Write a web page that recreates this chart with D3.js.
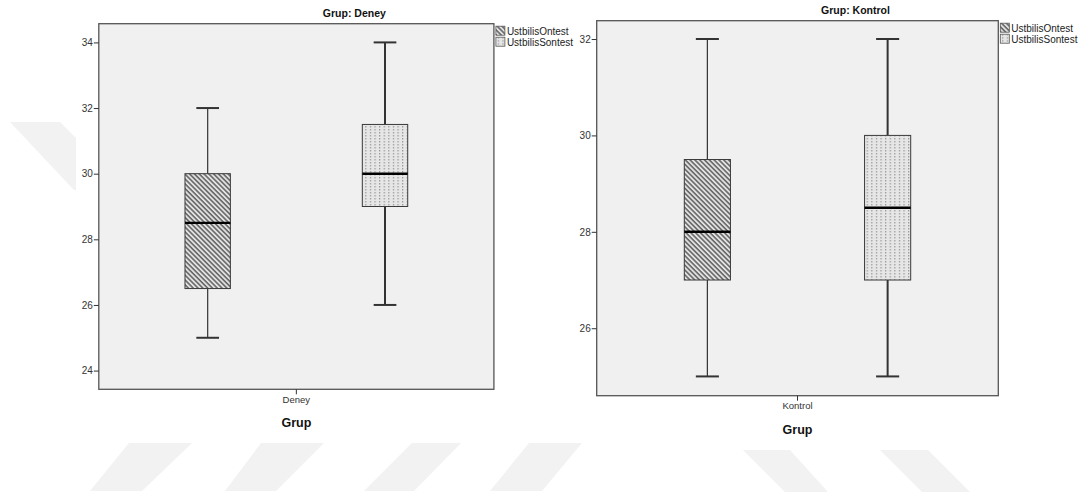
<!DOCTYPE html>
<html>
<head>
<meta charset="utf-8">
<script src="https://cdn.jsdelivr.net/npm/d3@7"></script>
<style>
body { margin: 0; background: #fff; }
svg { display: block; font-family: Arial, "Liberation Sans", sans-serif; }
</style>
</head>
<body>
<svg class="graph" width="1088" height="496"></svg>
<script>
var groups = ["Deney", "Kontrol"];
var seriesNames = ["UstbilisOntest", "UstbilisSontest"];
// min, Q1, median, Q3, max
var deneyOntest = [25, 26.5, 28.5, 30, 32];
var deneySontest = [26, 29, 30, 31.5, 34];
var kontrolOntest = [25, 27, 28, 29.5, 32];
var kontrolSontest = [25, 27, 28.5, 30, 32];
var deneyTicks = [24, 26, 28, 30, 32, 34];
var kontrolTicks = [26, 28, 30, 32];
var deneyDomain = [23.43, 34.57];
var kontrolDomain = [24.6, 32.38];
var xTitle = "Grup";
var titlePrefix = "Grup: ";

var svg = d3.select("svg.graph");
var defs = svg.append("defs");

// hatch for the first series
var hatch = defs.append("pattern")
    .attr("id", "hatch")
    .attr("patternUnits", "userSpaceOnUse")
    .attr("width", 3.4)
    .attr("height", 3.4)
    .attr("patternTransform", "rotate(-45)");
hatch.append("rect").attr("width", 3.4).attr("height", 3.4).attr("fill", "#e2e2e2");
hatch.append("line")
    .attr("x1", 0.9).attr("y1", 0).attr("x2", 0.9).attr("y2", 3.4)
    .attr("stroke", "#4a4a4a").attr("stroke-width", 1.3);

// dotted vertical lines for the second series
var dots = defs.append("pattern")
    .attr("id", "dots")
    .attr("patternUnits", "userSpaceOnUse")
    .attr("width", 4.6)
    .attr("height", 3);
dots.append("rect").attr("width", 4.6).attr("height", 3).attr("fill", "#e6e6e6");
dots.append("rect").attr("x", 2).attr("y", 0).attr("width", 1).attr("height", 1.5).attr("fill", "#8c8c8c");

var fills = ["url(#hatch)", "url(#dots)"];
var whiskerWidths = [1.2, 2];

// faint page watermark behind the charts
var watermark = [
    [[10, 122], [60, 122], [76, 138], [76, 190], [74, 190]],
    [[129, 443], [192, 443], [142, 491], [90, 491]],
    [[261, 443], [324, 443], [276, 491], [225, 491]],
    [[412, 443], [461, 443], [414, 491], [364, 491]],
    [[529, 443], [582, 443], [542, 491], [490, 491]],
    [[743, 450], [790, 450], [828, 492], [785, 492]],
    [[880, 450], [928, 450], [970, 492], [922, 492]]
];
svg.append("g").selectAll("polygon")
    .data(watermark)
    .enter().append("polygon")
    .attr("points", function (d) { return d.map(function (p) { return p.join(","); }).join(" "); })
    .attr("fill", "#f2f2f2");

var panels = [
    { group: groups[0], stats: [deneyOntest, deneySontest], ticks: deneyTicks, domain: deneyDomain,
      x0: 98.8, x1: 493.9, y0: 23.7, y1: 389.3 },
    { group: groups[1], stats: [kontrolOntest, kontrolSontest], ticks: kontrolTicks, domain: kontrolDomain,
      x0: 596.7, x1: 998.3, y0: 20.7, y1: 395.7 }
];

panels.forEach(function (p) {
    var g = svg.append("g");
    var w = p.x1 - p.x0;

    var yScale = d3.scaleLinear().domain(p.domain).range([p.y1, p.y0]);
    var xGroup = d3.scaleBand().domain([p.group]).range([p.x0, p.x1]);
    var xSeries = d3.scaleBand()
        .domain(seriesNames)
        .range([p.x0, p.x1])
        .paddingInner(0.744)
        .paddingOuter(0.486);

    // plot frame
    g.append("rect")
        .attr("x", p.x0)
        .attr("y", p.y0)
        .attr("width", w)
        .attr("height", p.y1 - p.y0)
        .attr("fill", "#f0f0f0")
        .attr("stroke", "#555")
        .attr("stroke-width", 1.3);

    // y axis
    var yAxis = g.append("g")
        .attr("transform", "translate(" + p.x0 + ",0)")
        .call(d3.axisLeft(yScale).tickValues(p.ticks).tickSize(5).tickPadding(1).tickFormat(d3.format("d")));
    yAxis.select(".domain").remove();
    yAxis.selectAll("line").attr("stroke", "#333");
    yAxis.selectAll("text").attr("fill", "#333").attr("font-size", 10)
        .attr("font-family", "Arial, 'Liberation Sans', sans-serif");

    // x axis
    var xAxis = g.append("g")
        .attr("transform", "translate(0," + p.y1 + ")")
        .call(d3.axisBottom(xGroup).tickSize(5).tickPadding(2));
    xAxis.select(".domain").remove();
    xAxis.selectAll("line").attr("stroke", "#333");
    xAxis.selectAll("text").attr("fill", "#333").attr("font-size", 9.5)
        .attr("font-family", "Arial, 'Liberation Sans', sans-serif");

    g.append("text")
        .attr("x", xGroup(p.group) + xGroup.bandwidth() / 2)
        .attr("y", p.y1 + 38)
        .attr("text-anchor", "middle")
        .attr("font-size", 12.5)
        .attr("font-weight", "bold")
        .attr("fill", "#111")
        .text(xTitle);

    g.append("text")
        .attr("x", (p.x0 + p.x1) / 2 + 58)
        .attr("y", p.y0 - 7)
        .attr("text-anchor", "middle")
        .attr("font-size", 10.5)
        .attr("font-weight", "bold")
        .attr("fill", "#111")
        .text(titlePrefix + p.group);

    // boxes
    var bw = xSeries.bandwidth();
    var boxes = g.selectAll("g.box")
        .data(p.stats)
        .enter().append("g")
        .classed("box", true);

    boxes.each(function (s, i) {
        var b = d3.select(this);
        var left = xSeries(seriesNames[i]);
        var cx = left + bw / 2;
        var capHalf = bw / 4;

        b.append("line")
            .attr("x1", cx).attr("x2", cx)
            .attr("y1", yScale(s[0])).attr("y2", yScale(s[1]))
            .attr("stroke", "#333").attr("stroke-width", whiskerWidths[i]);
        b.append("line")
            .attr("x1", cx).attr("x2", cx)
            .attr("y1", yScale(s[3])).attr("y2", yScale(s[4]))
            .attr("stroke", "#333").attr("stroke-width", whiskerWidths[i]);
        [s[0], s[4]].forEach(function (v) {
            b.append("line")
                .attr("x1", cx - capHalf).attr("x2", cx + capHalf)
                .attr("y1", yScale(v)).attr("y2", yScale(v))
                .attr("stroke", "#333").attr("stroke-width", 2);
        });
        b.append("rect")
            .attr("x", left)
            .attr("y", yScale(s[3]))
            .attr("width", bw)
            .attr("height", yScale(s[1]) - yScale(s[3]))
            .attr("fill", fills[i])
            .attr("stroke", "#3a3a3a")
            .attr("stroke-width", 1);
        b.append("line")
            .attr("x1", left).attr("x2", left + bw)
            .attr("y1", yScale(s[2])).attr("y2", yScale(s[2]))
            .attr("stroke", "#000").attr("stroke-width", 2.4);
    });

    // legend
    var legend = g.selectAll("g.legend")
        .data(seriesNames)
        .enter().append("g")
        .classed("legend", true)
        .attr("transform", function (d, i) { return "translate(" + (p.x1 + 2) + "," + (p.y0 + 2.5 + i * 11) + ")"; });
    legend.append("rect")
        .attr("width", 9)
        .attr("height", 9)
        .attr("fill", function (d, i) { return fills[i]; })
        .attr("stroke", "#555")
        .attr("stroke-width", 0.8);
    legend.append("text")
        .attr("x", 11)
        .attr("y", 8.5)
        .attr("font-size", 10)
        .attr("fill", "#222")
        .text(function (d) { return d; });
});
</script>
</body>
</html>
